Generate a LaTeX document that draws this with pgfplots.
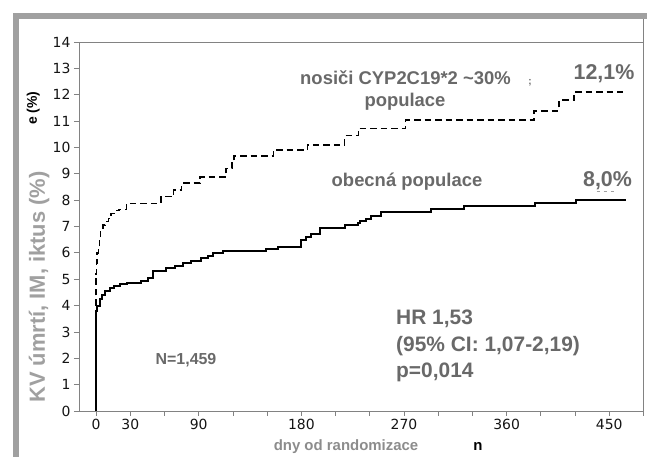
\documentclass[border=0pt]{standalone}
\usepackage{fontspec}
\setmainfont{Liberation Sans}
\newfontfamily\dejavu{DejaVu Sans}
\usepackage{pgfplots}
\pgfplotsset{compat=1.18}
\definecolor{annot}{RGB}{105,105,105}
\definecolor{ylab}{RGB}{160,160,160}
\definecolor{xlab}{RGB}{140,140,140}
\definecolor{framegray}{RGB}{160,160,160}
\definecolor{axisgray}{RGB}{130,130,130}
\definecolor{ticklab}{RGB}{20,20,20}

\pgfplotstableread{
day val
0 0
0 3.8
0 5.2
0.5 5.6
1 6.0
2 6.1
3 6.5
4 6.9
6 7.05
8 7.18
11 7.3
13 7.5
16 7.6
20 7.65
26.5 7.88
57 8.13
68 8.38
75 8.65
91 8.88
114 9.2
119 9.45
121 9.67
155.5 9.9
185.5 10.1
218 10.45
230 10.72
271.5 11.04
384 11.39
406 11.8
419 12.1
462 12.1
}\carriers

\pgfplotstableread{
day val
0 0
0 3.8
1 4.0
3 4.25
5 4.4
8 4.55
12 4.65
16 4.74
21 4.8
27 4.84
39.6 4.93
45.4 5.03
49.8 5.32
61.6 5.41
69 5.5
76 5.6
83.5 5.69
92.3 5.79
98 5.88
102.5 5.98
111 6.08
149.3 6.16
159.5 6.23
180 6.49
184.4 6.6
188.8 6.7
196 6.95
218 7.05
229.6 7.12
231.1 7.2
237 7.3
241.4 7.38
250.2 7.55
294 7.65
323 7.77
385 7.9
421 8.0
465 8.0
}\general

\begin{document}
\begin{tikzpicture}[x=1bp,y=1bp]
\path[use as bounding box] (-79,-46) rectangle (568,411);
\fill[framegray] (-66,-46) rectangle (-60,398);
\fill[framegray] (-66,392) rectangle (568,398);
\draw[axisgray, line width=0.8bp] (564.5,392) -- (564.5,0);
\begin{axis}[
  at={(0,0)}, anchor=south west,
  scale only axis,
  width=564.5bp, height=369bp,
  xmin=-15, xmax=480, ymin=0, ymax=14,
  axis line style={draw=axisgray, line width=0.8bp},
  tick style={draw=axisgray, line width=0.8bp},
  tick align=outside,
  major tick length=5bp,
  xtick pos=bottom, ytick pos=left,
  xtick={0,30,...,480},
  xticklabels={0,30,,90,,,180,,,270,,,360,,,450,},
  ytick={0,1,...,14},
  /pgf/number format/assume math mode=true,
  tick label style={font=\dejavu\fontsize{14}{16}\selectfont, text=ticklab},
  clip=false,
]
\addplot[const plot, black, line width=1.5bp, dash pattern=on 6.5bp off 4bp] table[x=day,y=val] {\carriers};
\addplot[const plot, black, line width=2bp] table[x=day,y=val] {\general};
\end{axis}

\node[anchor=base, text=annot, font=\bfseries\fontsize{18.5}{20}\selectfont] at (326.5,326) {nosiči CYP2C19*2 \textasciitilde30\%};
\node[anchor=base, text=annot, font=\bfseries\fontsize{18.5}{20}\selectfont] at (326,304.3) {populace};
\node[anchor=base, text=annot, font=\bfseries\fontsize{10}{11}\selectfont] at (451,326) {;};
\node[anchor=base, text=annot, font=\bfseries\fontsize{21.5}{23}\selectfont] at (525,331) {12,1\%};
\node[anchor=base, text=annot, font=\bfseries\fontsize{18.5}{20}\selectfont] at (328,224.3) {obecná populace};
\node[anchor=base, text=annot, font=\bfseries\fontsize{21.5}{23}\selectfont] at (528.5,224.3) {8,0\%};
\draw[ylab, line width=0.8bp, dash pattern=on 3bp off 4bp] (517.7,219.3) -- (537.7,219.3);
\node[anchor=base west, inner sep=0pt, text=annot, font=\bfseries\fontsize{21}{23}\selectfont] at (317,86) {HR 1,53};
\node[anchor=base west, inner sep=0pt, text=annot, font=\bfseries\fontsize{21}{23}\selectfont] at (317,59.3) {(95\% CI: 1,07-2,19)};
\node[anchor=base west, inner sep=0pt, text=annot, font=\bfseries\fontsize{21}{23}\selectfont] at (317,33.7) {p=0,014};
\node[anchor=base, text=annot, font=\bfseries\fontsize{16}{18}\selectfont] at (107,46) {N=1,459};
\node[anchor=base, text=xlab, font=\bfseries\fontsize{15}{17}\selectfont] at (267,-40) {dny od randomizace};
\node[anchor=base, text=black, font=\bfseries\fontsize{15}{17}\selectfont] at (399,-40) {n};
\node[anchor=base west, inner sep=0pt, rotate=90, text=ylab, font=\bfseries\fontsize{22}{24}\selectfont] at (-34,8) {KV úmrtí, IM, iktus (\%)};
\node[anchor=base west, inner sep=0pt, rotate=90, text=black, font=\bfseries\fontsize{14}{16}\selectfont] at (-42,286) {e (\%)};
\end{tikzpicture}
\end{document}
